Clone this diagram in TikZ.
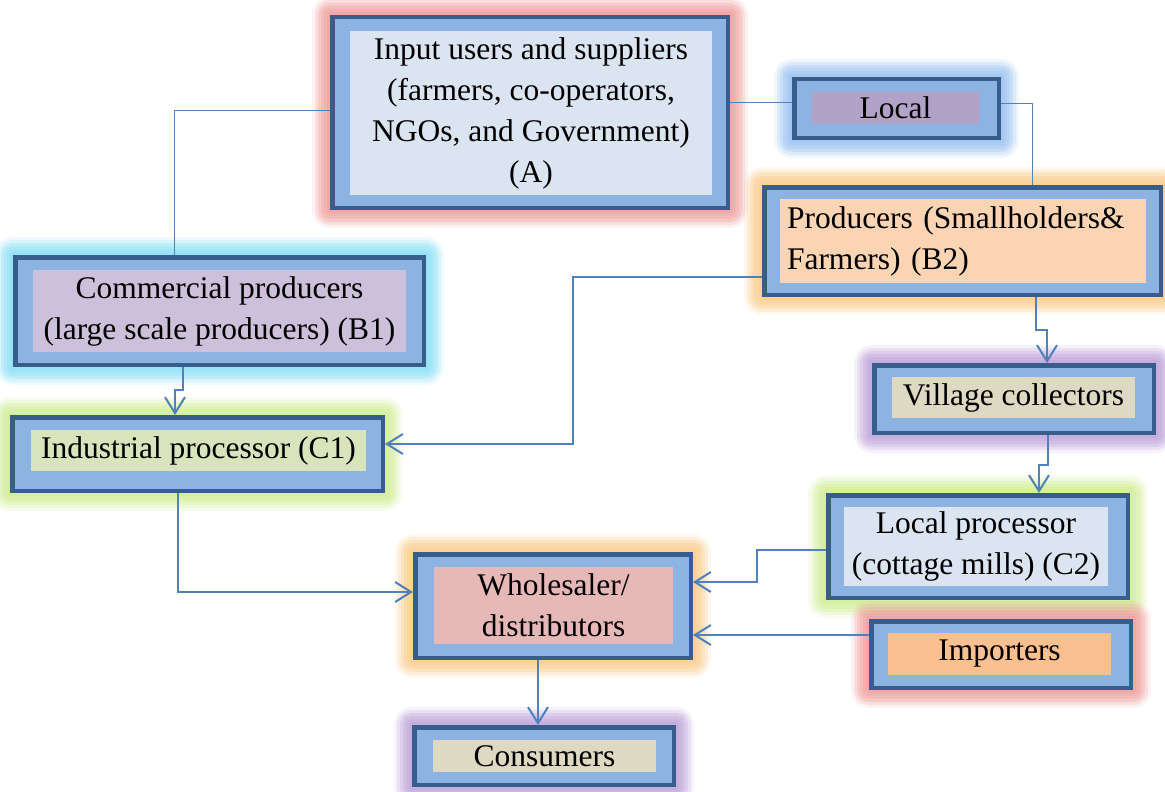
\documentclass[tikz,border=0pt]{standalone}
\usepackage{fontspec}
\setmainfont{Liberation Serif}
\newfontfamily\boxfont{Liberation Serif}
\usetikzlibrary{arrows.meta,calc}

\definecolor{frameline}{HTML}{385D8A}
\definecolor{framefill}{HTML}{8DB3E2}
\definecolor{link}{HTML}{4F81BD}
% inner panel colours
\definecolor{inA}{HTML}{DBE5F1}
\definecolor{inBone}{HTML}{CCC0DA}
\definecolor{inLocal}{HTML}{B3A2C7}
\definecolor{inBtwo}{HTML}{FBD4B4}
\definecolor{inCone}{HTML}{D7E4BC}
\definecolor{inVillage}{HTML}{DDD9C3}
\definecolor{inCtwo}{HTML}{DBE5F1}
\definecolor{inWhole}{HTML}{E6B9B8}
\definecolor{inImp}{HTML}{FAC090}
\definecolor{inCons}{HTML}{DDD9C3}
% halo colours
\definecolor{haloRed}{HTML}{EE9090}
\definecolor{haloCyan}{HTML}{7ADAF4}
\definecolor{haloBlue}{HTML}{8CB9EE}
\definecolor{haloOrange}{HTML}{F9C47A}
\definecolor{haloGreen}{HTML}{C9EA86}
\definecolor{haloPurple}{HTML}{B597D4}

% soft glow around a box: #1 colour, #2 top-left, #3 bottom-right
\newcommand\halo[3]{%
  \foreach \g/\o in {3/0.25,6/0.25,9/0.25,12/0.25,15/0.2,18/0.12}{%
    \fill[#1,opacity=\o,rounded corners=\g pt]
      ($(#2)+(-\g,-\g)$) rectangle ($(#3)+(\g,\g)$);}}

\tikzset{
  frame/.style={draw=frameline, line width=4.5pt, fill=framefill,
    inner sep=0pt, rectangle},
  panel/.style={inner sep=0pt, align=center, text=black,
    font=\boxfont\fontsize{31.5}{41}\selectfont},
  link line/.style={draw=link, line width=1pt},
  arr/.style={draw=link, line width=2pt,
    -{Straight Barb[length=16pt,width=20pt]}},
}

\begin{document}
\begin{tikzpicture}[x=1pt,y=-1pt]
\useasboundingbox (0,0) rectangle (1165,792);

% glows
\halo{haloRed}{330,15}{730,210}
\halo{haloCyan}{13,255}{426,367}
\halo{haloGreen}{10,415}{385,493}
\halo{haloBlue}{792,77}{1001,140}
\halo{haloOrange}{762,185}{1163,297}
\halo{haloPurple}{872,363}{1156,435}
\halo{haloGreen}{826,493}{1130,600}
\halo{haloOrange}{413,552}{693,660}
\halo{haloRed}{869,619}{1133,690}
\halo{haloPurple}{412,725}{676,787}

% outer frames
\node[frame, minimum width=395.5pt, minimum height=190.5pt] (A) at (530,112.5) {};
\node[frame, minimum width=408.5pt, minimum height=107.5pt] (B1) at (219.5,311) {};
\node[frame, minimum width=370.5pt, minimum height=73.5pt] (C1) at (197.5,454) {};
\node[frame, minimum width=204.5pt, minimum height=58.5pt] (Local) at (896.5,108.5) {};
\node[frame, minimum width=396.5pt, minimum height=107.5pt] (B2) at (962.5,241) {};
\node[frame, minimum width=279.5pt, minimum height=67.5pt] (Village) at (1014,399) {};
\node[frame, minimum width=299.5pt, minimum height=102.5pt] (C2) at (978,546.5) {};
\node[frame, minimum width=275.5pt, minimum height=103.5pt] (Whole) at (553,606) {};
\node[frame, minimum width=259.5pt, minimum height=66.5pt] (Imp) at (1001,654.5) {};
\node[frame, minimum width=259.5pt, minimum height=57.5pt] (Cons) at (544,756) {};

% inner panels with their texts
\node[panel, fill=inA, minimum width=362pt, minimum height=164pt] (A-in) at (531,113)
  {Input users and suppliers\\(farmers, co-operators,\\NGOs, and Government)\\(A)};
\node[panel, fill=inBone, minimum width=373pt, minimum height=82pt] (B1-in) at (219.5,311)
  {Commercial producers\\(large scale producers) (B1)};
\node[panel, fill=inCone, minimum width=335pt, minimum height=41pt] (C1-in) at (198.5,450.5)
  {Industrial processor (C1)};
\node[panel, fill=inLocal, minimum width=167pt, minimum height=32pt] (Local-in) at (895.5,108)
  {Local};
\node[panel, fill=inBtwo, minimum width=366pt, minimum height=84pt, align=left,
  inner xsep=7pt, text width=352pt] (B2-in) at (963,241)
  {Producers (Smallholders\&\\Farmers) (B2)};
\node[panel, fill=inVillage, minimum width=243pt, minimum height=41pt] (Village-in) at (1013.5,397.5)
  {Village collectors};
\node[panel, fill=inCtwo, minimum width=264pt, minimum height=79pt] (C2-in) at (976,546.5)
  {Local processor\\(cottage mills) (C2)};
\node[panel, fill=inWhole, minimum width=239pt, minimum height=77pt] (Whole-in) at (553.5,605.5)
  {Wholesaler/\\distributors};
\node[panel, fill=inImp, minimum width=223pt, minimum height=42pt] (Imp-in) at (999.5,654)
  {Importers};
\node[panel, fill=inCons, minimum width=223pt, minimum height=32pt] (Cons-in) at (544.5,756)
  {Consumers};

% plain links
\draw[link line] ([yshift=2.5pt]A.west) -| ([xshift=-45.5pt]B1.north);
\draw[link line] ([yshift=6pt]Local.west) -- ([yshift=6pt]Local.west -| A.east);
\draw[link line] ([yshift=5pt]Local.east) -| ([xshift=69.5pt]B2.north);

% flows
\coordinate (k1) at (573,444);
\coordinate (k2) at (757,582);
\draw[arr] ([xshift=-36.5pt]B1.south) -- ++(0,23) -| ([xshift=-22.5pt]C1.north);
\draw[arr] ([yshift=-36pt]B2.west) -| (k1) -- (k1 -| C1.east);
\draw[arr] ([xshift=73.5pt]B2.south) -- ++(0,33) -| ([xshift=33pt]Village.north);
\draw[arr] ([xshift=34pt]Village.south) -- ++(0,30) -| ([xshift=61pt]C2.north);
\draw[arr] ([xshift=-19.5pt]C1.south) |- ([yshift=14pt]Whole.west);
\draw[arr] ([yshift=-3.5pt]C2.west) -| (k2) -- (k2 -| Whole.east);
\draw[arr] ([yshift=19.5pt]Imp.west) -- ([yshift=19.5pt]Imp.west -| Whole.east);
\draw[arr] ([xshift=-15pt]Whole.south) -- ([xshift=-15pt]Whole.south |- Cons.north);
\end{tikzpicture}
\end{document}
